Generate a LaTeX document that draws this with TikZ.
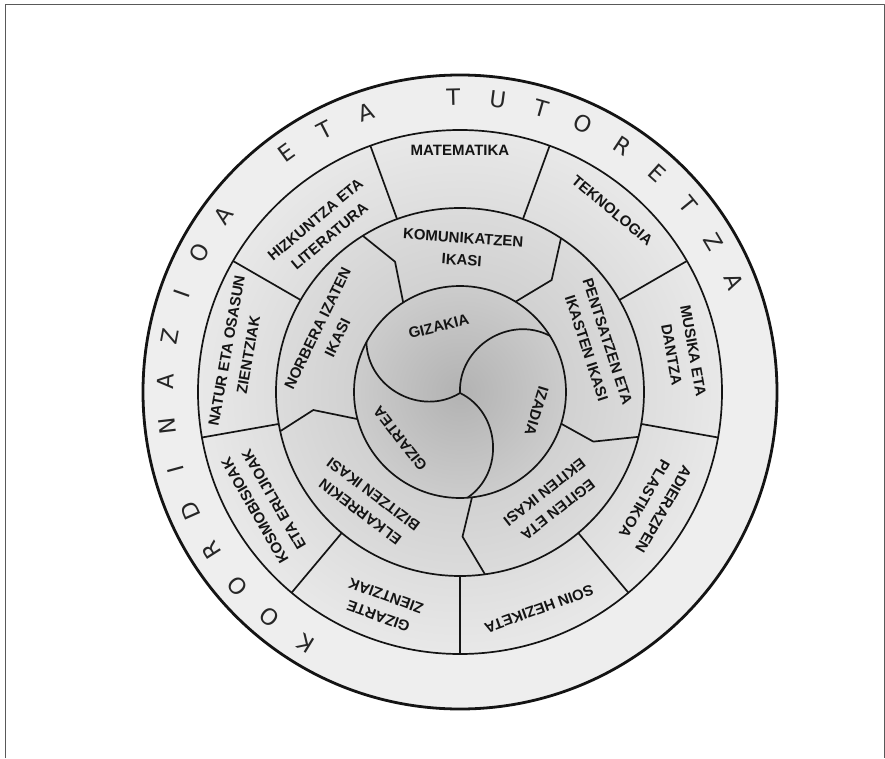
\documentclass[tikz,border=0pt]{standalone}
\usepackage{fontspec}
\setmainfont{Liberation Sans}
\newfontfamily\outerfont{DejaVu Sans}
\usetikzlibrary{calc}
\definecolor{cin0}{gray}{0.70}
\definecolor{cin1}{gray}{0.80}
\definecolor{cmid0}{gray}{0.82}
\definecolor{cmid1}{gray}{0.86}
\definecolor{csub0}{gray}{0.87}
\definecolor{csub1}{gray}{0.91}
\definecolor{outerfill}{gray}{0.935}
\definecolor{framecol}{gray}{0.35}
\definecolor{inkcol}{gray}{0.08}
\pgfdeclareradialshading{diskshade}{\pgfpoint{0bp}{0bp}}{%
color(0bp)=(cin0); color(10.1bp)=(cin1); color(10.12bp)=(cmid0); color(17.55bp)=(cmid1); color(17.57bp)=(csub0); color(25bp)=(csub1); color(50bp)=(csub1)}
\newcommand\lbfont{\fontsize{15}{22}\selectfont\bfseries}
\newcommand\ringfont{\outerfont\fontsize{22.5}{22.5}\selectfont}
\tikzset{
  lab/.style={font=\lbfont, align=center, text=inkcol, inner sep=0pt},
  ringletter/.style={font=\ringfont, text=black!85, inner sep=0pt},
  ringline/.style={line width=1.7pt, draw=inkcol},
  outerline/.style={line width=2.8pt, draw=inkcol},
  frameline/.style={line width=1pt, draw=framecol}
}
\begin{document}
\begin{tikzpicture}[x=1pt,y=1pt,line join=round]
\useasboundingbox (-460,-366) rectangle (425,392);
% frame
\draw[frameline] (-454.5,-366) -- (-454.5,387.5) -- (424,387.5) -- (424,-366);
% fills
\fill[outerfill] (0,0) circle (317);
\shade[shading=diskshade] (0,0) circle (262);
% circles
\draw[outerline] (0,0) circle (317);
\draw[ringline] (0,0) circle (262);
\draw[ringline] (0,0) circle (184);
\draw[ringline] (0,0) circle (106);
% subject dividers
\foreach \a in {110,70,30,-10,-50,-90,-130,-170,150}
  \draw[ringline] (\a:184) -- (\a:262);
% learning ring dividers
\draw[ringline] (121.9:184) -- (116.5:145.6) -- (122.4:106);
\draw[ringline] (56.7:184) -- (50.7:144.7) -- (58.4:106);
\draw[ringline] (-14.1:184) -- (-20.4:142.3) -- (-17.4:106);
\draw[ringline] (-82.2:184) -- (-89:144.7) -- (-83.5:106);
\draw[ringline] (-167.7:184) -- (-173:147.8) -- (-165.2:106);
% triskelion
\coordinate (tc) at (0,-1);
\coordinate (ta) at (152:106);
\coordinate (tb) at (32:106);
\coordinate (tcc) at (-86:106);
\draw[ringline] (tc) to[bend left=60, looseness=1.1] (ta);
\draw[ringline] (tc) to[bend left=60, looseness=1.1] (tb);
\draw[ringline] (tc) to[bend left=60, looseness=1.1] (tcc);
% inner texts
\node[lab, rotate=14] (gizakia) at (108:69) {GIZAKIA};
\node[lab, rotate=-107] (izadia) at (-14:79) {IZADIA};
\node[lab, rotate=128] (gizartea) at (-142:76) {GIZARTEA};
% learning texts
\node[lab, rotate=-4] (komun) at (89:143) {KOMUNIKATZEN\\IKASI};
\node[lab, rotate=64] (norbera) at (156:145) {NORBERA IZATEN\\IKASI};
\node[lab, rotate=-72] (pentsa) at (19:145) {PENTSATZEN ETA\\IKASTEN IKASI};
\node[lab, rotate=-142] (egiten) at (-50:142) {EGITEN ETA\\EKITEN IKASI};
\node[lab, rotate=143] (elkar) at (-130:145) {ELKARREKIN\\BIZITZEN IKASI};
% subject texts
\node[lab, rotate=0] (mate) at (90:242) {MATEMATIKA};
\node[lab, rotate=-40] (tekno) at (50:237) {TEKNOLOGIA};
\node[lab, rotate=-80] (musika) at (10:226) {MUSIKA ETA\\DANTZA};
\node[lab, rotate=-120] (adier) at (-30:224) {ADIERAZPEN\\PLASTIKOA};
\node[lab, rotate=-160] (soin) at (-70:231) {SOIN HEZIKETA};
\node[lab, rotate=-200] (gizarte) at (-110:228) {GIZARTE\\ZIENTZIAK};
\node[lab, rotate=-240] (kosmo) at (-150:226) {KOSMOBISIOAK\\ETA ERLIJIOAK};
\node[lab, rotate=80] (natur) at (170:226) {NATUR ETA OSASUN\\ZIENTZIAK};
\node[lab, rotate=40] (hizk) at (130:214) {HIZKUNTZA ETA\\LITERATURA};
% outer ring letters
\foreach \ch/\i in {K/0,O/1,O/2,R/3,D/4,I/5,N/6,A/7,Z/8,I/9,O/10,A/11,E/13,T/14,A/15,T/17,U/18,T/19,O/20,R/21,E/22,T/23,Z/24,A/25}{
  \pgfmathsetmacro\ang{238.5-8.66*\i}
  \pgfmathsetmacro\rot{\ang-90}
  \node[ringletter, rotate=\rot] (L\i) at (\ang:295) {\ch};
}
\end{tikzpicture}
\end{document}
